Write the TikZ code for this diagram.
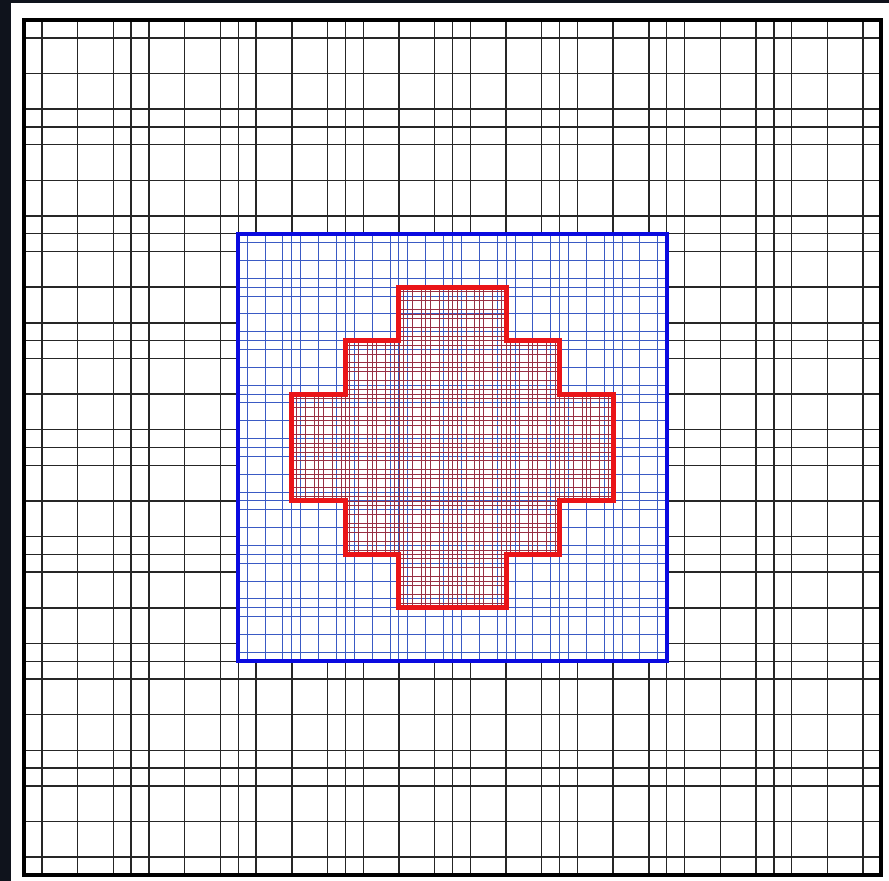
\documentclass[tikz,border=0pt]{standalone}
\usepackage{tikz}
\definecolor{frame}{HTML}{0F131C}
\definecolor{meshblue}{HTML}{3A5AC4}
\definecolor{levelblue}{HTML}{0A0AE0}
\definecolor{meshred}{HTML}{983044}
\definecolor{levelred}{HTML}{EA1418}
\def\crosszone{(21,33) -- (27,33) -- (27,30) -- (30,30) -- (30,27) -- (33,27) -- (33,21) -- (30,21)
  -- (30,18) -- (27,18) -- (27,15) -- (21,15) -- (21,18) -- (18,18) -- (18,21) -- (15,21)
  -- (15,27) -- (18,27) -- (18,30) -- (21,30) -- cycle}

\begin{document}
\begin{tikzpicture}[
    coarse/.style={draw=black!85, line width=0.8pt},
    fine/.style={draw=meshblue, line width=0.55pt},
    finest/.style={draw=meshred, line width=0.45pt},
    bluebox/.style={draw=levelblue, line width=2.3pt},
    redbox/.style={draw=levelred, line width=2.8pt, line join=miter}]

  \useasboundingbox (0,0) rectangle (17.78,17.62);
  \fill[frame] (0,0) rectangle (0.22,17.62);
  \fill[frame] (0,17.56) rectangle (17.78,17.62);

  \begin{scope}[shift={(0.48,0.12)}, x=0.35708cm, y=0.35625cm]
    \foreach \b in {0,...,7}
      \foreach \o in {0,1,3,5} {
        \draw[coarse] ({6*\b+\o},0) -- ++(0,48);
        \draw[coarse] (0,{6*\b+\o}) -- ++(48,0);
      }

    \fill[white] (12,12) rectangle (36,36);
    \foreach \b in {0,...,7}
      \foreach \o in {0,1,3,5} {
        \draw[fine] ({12+(6*\b+\o)/2},12) -- ++(0,24);
        \draw[fine] (12,{12+(6*\b+\o)/2}) -- ++(24,0);
      }

    \begin{scope}
      \clip \crosszone;
      \foreach \b in {0,...,15}
        \foreach \o in {0,1,3,5} {
          \draw[finest] ({12+(6*\b+\o)/4},12) -- ++(0,24);
          \draw[finest] (12,{12+(6*\b+\o)/4}) -- ++(24,0);
        }
    \end{scope}

    \draw[bluebox] (12,12) rectangle (36,36);
    \draw[redbox] \crosszone;
    \draw[draw=black, line width=2.4pt] (0,0) rectangle (48,48);
  \end{scope}
\end{tikzpicture}
\end{document}
